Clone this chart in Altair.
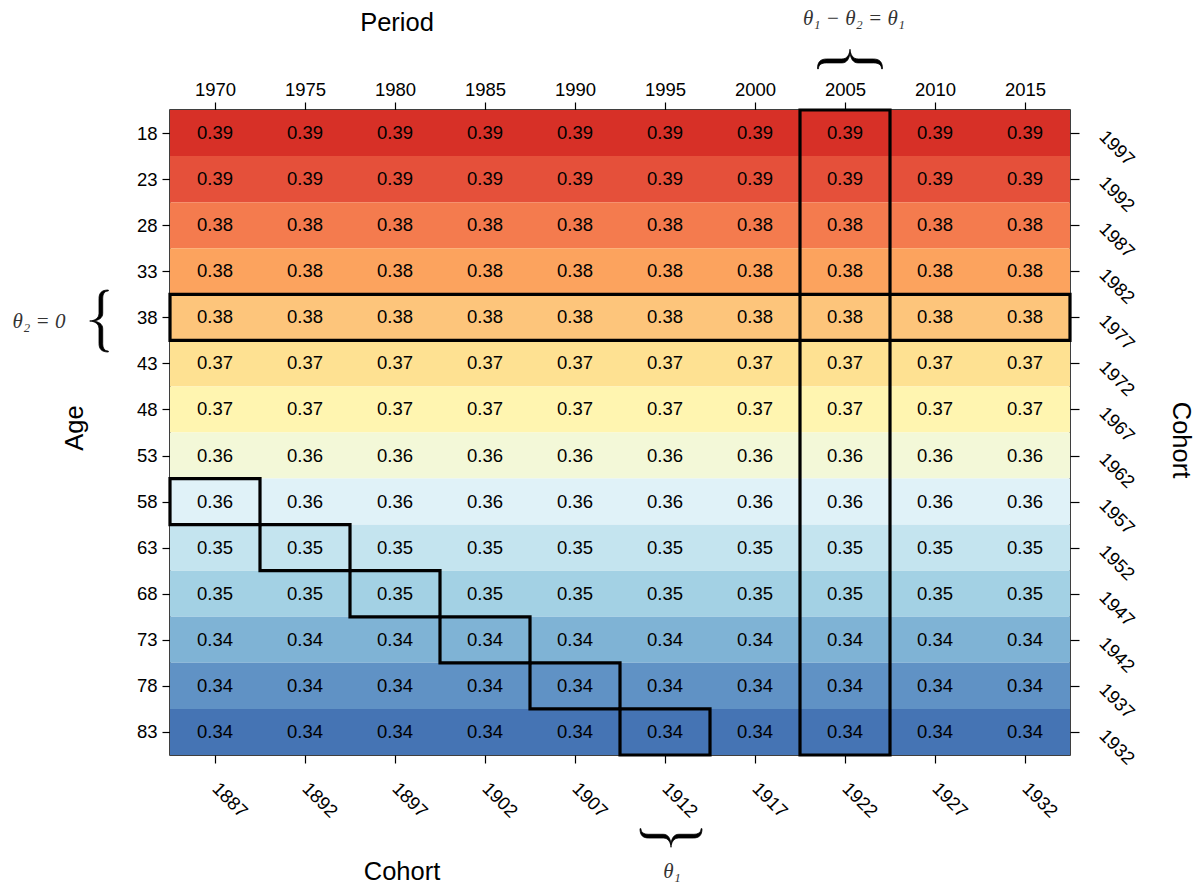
import altair as alt
import pandas as pd

# ---------------- data ----------------
periods = [1970, 1975, 1980, 1985, 1990, 1995, 2000, 2005, 2010, 2015]
ages = [18, 23, 28, 33, 38, 43, 48, 53, 58, 63, 68, 73, 78, 83]
values = [0.39, 0.39, 0.38, 0.38, 0.38, 0.37, 0.37, 0.36, 0.36, 0.35, 0.35, 0.34, 0.34, 0.34]
cohorts_bottom = [1887, 1892, 1897, 1902, 1907, 1912, 1917, 1922, 1927, 1932]
cohorts_right = [1997, 1992, 1987, 1982, 1977, 1972, 1967, 1962, 1957, 1952, 1947, 1942, 1937, 1932]
row_colors = ["#d73027", "#e5503a", "#f47b4e", "#fca35e", "#fdc57b", "#fee192", "#fff5b0",
              "#f3f8d8", "#e0f2f8", "#c4e4ef", "#a3d1e4", "#7fb3d5", "#6092c5", "#4574b4"]
highlight_age = 38
highlight_period = 2005
highlight_cohort = 1912
annotation_texts = ["θ₁ − θ₂ = θ₁", "θ₂ = 0", "θ₁"]
titles = ["Period", "Age", "Cohort", "Cohort"]

cells = pd.DataFrame([{"period": p, "age": a, "value": v}
                      for a, v in zip(ages, values) for p in periods])

half = (periods[1] - periods[0]) / 2
W, H = 900, 645
SANS = "Liberation Sans"
SERIF = "Liberation Serif"
FS = 18.5

xs = alt.Scale(domain=[periods[0] - half, periods[-1] + half], nice=False, zero=False)
ys = alt.Scale(domain=[ages[0] - half, ages[-1] + half], nice=False, zero=False, reverse=True)

ax_top = alt.Axis(orient="top", values=periods, format="d", title=None, labelPadding=3,
                  labelOverlap=False, tickSize=8)
ax_left = alt.Axis(orient="left", values=ages, format="d", title=None, labelPadding=5,
                   labelOverlap=False, tickSize=8)

base = alt.Chart(cells).transform_calculate(
    x_lo=f"datum.period - {half}",
    x_hi=f"datum.period + {half}",
    y_lo=f"datum.age - {half}",
    y_hi=f"datum.age + {half}",
)

heat = base.mark_rect().encode(
    x=alt.X("x_lo:Q", scale=xs, axis=ax_top),
    x2="x_hi:Q",
    y=alt.Y("y_lo:Q", scale=ys, axis=ax_left),
    y2="y_hi:Q",
    color=alt.Color("age:O", scale=alt.Scale(domain=ages, range=row_colors), legend=None),
)

labels = base.mark_text(font=SANS, fontSize=FS, color="black").encode(
    x=alt.X("period:Q", scale=xs, axis=ax_top),
    y=alt.Y("age:Q", scale=ys, axis=ax_left),
    text=alt.Text("value:Q", format=".2f"),
)

box_style = dict(fillOpacity=0, stroke="black", strokeWidth=3.2)

row_box = base.transform_filter(f"datum.age == {highlight_age}").transform_aggregate(
    bx1="min(x_lo)", bx2="max(x_hi)", by1="min(y_lo)", by2="max(y_hi)"
).mark_rect(**box_style).encode(
    x=alt.X("bx1:Q", scale=xs, axis=ax_top), x2="bx2:Q",
    y=alt.Y("by1:Q", scale=ys, axis=ax_left), y2="by2:Q",
)

col_box = base.transform_filter(f"datum.period == {highlight_period}").transform_aggregate(
    bx1="min(x_lo)", bx2="max(x_hi)", by1="min(y_lo)", by2="max(y_hi)"
).mark_rect(**box_style).encode(
    x=alt.X("bx1:Q", scale=xs, axis=ax_top), x2="bx2:Q",
    y=alt.Y("by1:Q", scale=ys, axis=ax_left), y2="by2:Q",
)

diag_box = base.transform_filter(f"datum.period - datum.age == {highlight_cohort}").mark_rect(**box_style).encode(
    x=alt.X("x_lo:Q", scale=xs, axis=ax_top), x2="x_hi:Q",
    y=alt.Y("y_lo:Q", scale=ys, axis=ax_left), y2="y_hi:Q",
)

dummy = pd.DataFrame({"a": [0]})

# filled curly brace pointing left, in unit coordinates
BRACE = ("M 0.3 -1 C 0.08 -1 0 -0.9 0 -0.72 L 0 -0.25 C 0 -0.08 -0.15 -0.01 -0.3 0 "
         "C -0.15 0.01 0 0.08 0 0.25 L 0 0.72 C 0 0.9 0.08 1 0.3 1 "
         "L 0.3 0.97 C 0.18 0.97 0.12 0.88 0.12 0.72 L 0.12 0.25 "
         "C 0.12 0.1 0.0 0.02 -0.2 0 C 0.0 -0.02 0.12 -0.1 0.12 -0.25 "
         "L 0.12 -0.72 C 0.12 -0.88 0.18 -0.97 0.3 -0.97 Z")


def brace(x, y, length, angle):
    return alt.Chart(dummy).mark_point(
        shape=BRACE, filled=True, fill="black", stroke="black", strokeWidth=0.8,
        opacity=1, size=length * length, angle=angle,
    ).encode(x=alt.value(x), y=alt.value(y))


def note(txt, x, y, **kw):
    return alt.Chart(dummy).mark_text(text=txt, **kw).encode(x=alt.value(x), y=alt.value(y))


math_style = dict(font=SERIF, fontSize=21, fontStyle="italic", color="#333333")
title_style = dict(font=SANS, fontSize=25.5, color="black")

annotations = [
    brace(680, -51, 65, 90),
    brace(-71, 211, 62, 0),
    brace(501, 728, 62, 270),
    note(annotation_texts[0], 684, -91, **math_style),
    note(annotation_texts[1], -131, 212, **math_style),
    note(annotation_texts[2], 502, 762, **math_style),
    note(titles[0], 227, -87, **title_style),
    note(titles[1], -95, 318, angle=270, **title_style),
    note(titles[2], 232, 762, **title_style),
    note(titles[3], 1011, 330, angle=90, **title_style),
]

main = alt.layer(heat, labels, row_box, col_box, diag_box, *annotations)

bottom_axis = alt.Chart(pd.DataFrame({"cohort": cohorts_bottom})).mark_point(opacity=0).encode(
    x=alt.X("cohort:Q",
            scale=alt.Scale(domain=[min(cohorts_bottom) - half, max(cohorts_bottom) + half],
                            nice=False, zero=False),
            axis=alt.Axis(orient="bottom", values=cohorts_bottom, format="d", title=None,
                          labelAngle=45, labelAlign="left", labelBaseline="middle",
                          labelPadding=22, labelOverlap=False, tickSize=8)),
    y=alt.value(0),
)

right_axis = alt.Chart(pd.DataFrame({"cohort": cohorts_right})).mark_point(opacity=0).encode(
    y=alt.Y("cohort:Q",
            scale=alt.Scale(domain=[min(cohorts_right) - half, max(cohorts_right) + half],
                            nice=False, zero=False),
            axis=alt.Axis(orient="right", values=cohorts_right, format="d", title=None,
                          labelAngle=45, labelAlign="left", labelBaseline="middle",
                          labelPadding=23, labelOverlap=False, tickSize=9)),
    x=alt.value(0),
)

chart = alt.layer(main, bottom_axis, right_axis).resolve_scale(
    x="independent", y="independent"
).properties(
    width=W, height=H,
    autosize=alt.AutoSizeParams(type="none"),
    padding={"left": 170, "top": 110, "right": 125, "bottom": 131},
    background="white",
).configure_axis(
    labelFont=SANS, labelFontSize=FS, labelColor="black", tickColor="black",
    tickWidth=1.2, domain=False, grid=False,
).configure_view(stroke="black", strokeWidth=1.5)

chart.save("out.html", embed_options={"renderer": "svg", "actions": False})
